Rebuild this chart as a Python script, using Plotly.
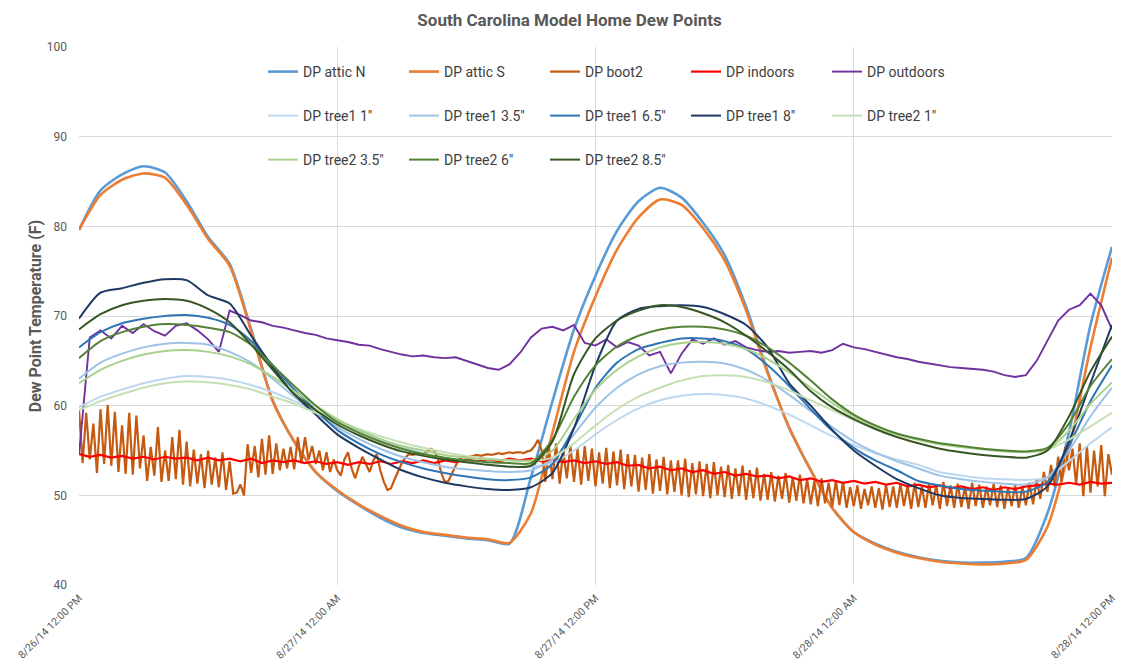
import numpy as np
import pandas as pd
import plotly.graph_objects as go

START = pd.Timestamp("2014-08-26 12:00")
SPAN_HOURS = 48
FONT = "Roboto, 'Open Sans', sans-serif"

# ---- readings (°F) --------------------------------------------------------
# hourly series: 49 values, 8/26 12:00 PM .. 8/28 12:00 PM
attic_n = [79.6, 84.0, 85.8, 86.7, 86.0, 82.8, 78.8, 75.8, 68.5, 60.6,
           56.0, 52.6, 50.5, 48.9, 47.5, 46.4, 45.8, 45.5, 45.2, 45.0,
           44.6, 52.0, 60.5, 68.5, 74.5, 79.5, 82.8, 84.3, 83.2, 80.4,
           76.8, 71.0, 63.8, 57.5, 52.8, 48.6, 45.9, 44.6, 43.7, 43.1,
           42.7, 42.5, 42.5, 42.6, 43.0, 48.0, 57.0, 69.0, 77.7]
attic_s = [79.6, 83.5, 85.2, 85.9, 85.4, 82.4, 78.6, 75.6, 68.3, 60.5,
           56.0, 52.6, 50.6, 49.0, 47.7, 46.6, 45.9, 45.6, 45.3, 45.1,
           44.7, 48.0, 57.0, 66.0, 72.2, 77.4, 81.0, 83.0, 82.4, 79.8,
           76.2, 70.6, 63.6, 57.6, 52.8, 48.6, 45.9, 44.5, 43.6, 43.0,
           42.6, 42.4, 42.3, 42.4, 42.8, 46.5, 55.0, 66.5, 76.5]
tree1_1 = [59.8, 61.0, 61.8, 62.5, 63.0, 63.3, 63.2, 62.9, 62.3, 61.5,
           60.5, 59.4, 58.3, 57.2, 56.2, 55.4, 54.7, 54.1, 53.7, 53.4,
           53.2, 53.2, 53.6, 55.0, 56.8, 58.4, 59.7, 60.6, 61.1, 61.3,
           61.2, 60.8, 60.0, 59.0, 57.8, 56.6, 55.6, 54.7, 54.0, 53.4,
           52.6, 52.2, 51.9, 51.8, 51.7, 52.0, 53.8, 55.8, 57.6]
tree1_35 = [63.0, 64.8, 65.8, 66.5, 66.9, 67.0, 66.8, 66.0, 64.8, 63.0,
            61.0, 59.2, 57.6, 56.3, 55.2, 54.3, 53.7, 53.2, 52.9, 52.7,
            52.6, 52.8, 54.0, 56.8, 59.8, 62.0, 63.5, 64.4, 64.8, 64.9,
            64.7, 64.0, 62.8, 61.2, 59.4, 57.6, 56.0, 54.8, 53.8, 53.0,
            52.2, 51.8, 51.5, 51.3, 51.2, 52.0, 55.0, 58.8, 62.0]
tree1_65 = [66.5, 68.2, 69.2, 69.7, 70.0, 70.1, 69.8, 69.0, 67.2, 64.5,
            61.8, 59.5, 57.3, 55.8, 54.6, 53.7, 53.0, 52.5, 52.1, 51.8,
            51.7, 52.0, 53.5, 57.5, 62.0, 64.8, 66.3, 67.0, 67.5, 67.5,
            67.2, 66.3, 64.5, 62.2, 59.6, 57.2, 55.3, 53.9, 52.8, 51.6,
            51.1, 50.7, 50.5, 50.4, 50.4, 51.5, 55.5, 60.5, 64.5]
tree1_8 = [69.7, 72.6, 73.1, 73.7, 74.1, 74.0, 72.3, 71.4, 67.8, 64.3,
           61.3, 59.0, 56.8, 55.3, 54.0, 52.8, 52.0, 51.4, 51.0, 50.7,
           50.6, 50.9, 52.5, 57.5, 64.5, 69.5, 70.8, 71.1, 71.2, 71.0,
           70.2, 69.0, 66.5, 62.5, 60.0, 57.3, 55.0, 53.3, 51.8, 50.8,
           50.0, 49.7, 49.6, 49.5, 49.6, 51.0, 56.0, 62.5, 69.0]
tree2_1 = [59.5, 60.5, 61.3, 62.0, 62.5, 62.7, 62.6, 62.3, 61.8, 61.0,
           60.2, 59.2, 58.3, 57.4, 56.6, 55.9, 55.3, 54.8, 54.4, 54.1,
           53.9, 53.8, 54.2, 55.8, 57.8, 59.6, 61.0, 62.0, 62.8, 63.3,
           63.4, 63.2, 62.6, 61.7, 60.6, 59.5, 58.4, 57.5, 56.8, 56.2,
           55.7, 55.4, 55.2, 55.0, 54.9, 55.1, 56.2, 57.7, 59.2]
tree2_35 = [62.5, 64.0, 65.0, 65.7, 66.1, 66.2, 66.0, 65.5, 64.6, 63.2,
            61.6, 60.0, 58.5, 57.3, 56.3, 55.5, 55.0, 54.5, 54.2, 54.0,
            53.9, 53.9, 55.0, 58.5, 61.8, 64.0, 65.5, 66.5, 67.0, 67.1,
            66.9, 66.3, 65.2, 63.7, 62.0, 60.3, 58.8, 57.7, 56.8, 56.2,
            55.7, 55.4, 55.1, 54.9, 54.8, 55.1, 57.2, 60.2, 62.6]
tree2_6 = [65.3, 67.2, 68.2, 68.8, 69.1, 69.0, 68.7, 68.2, 66.8, 64.5,
           62.2, 60.0, 58.2, 57.0, 56.0, 55.2, 54.6, 54.2, 53.9, 53.7,
           53.6, 53.6, 56.2, 61.0, 64.5, 66.6, 67.8, 68.5, 68.8, 68.8,
           68.5, 67.8, 66.5, 64.8, 62.8, 60.7, 59.0, 57.8, 56.9, 56.3,
           55.8, 55.5, 55.2, 55.0, 54.9, 55.3, 58.0, 62.2, 65.2]
tree2_85 = [68.5, 70.2, 71.2, 71.7, 71.9, 71.7, 70.8, 69.3, 66.8, 64.0,
            61.3, 59.5, 57.9, 56.7, 55.7, 54.9, 54.4, 54.0, 53.7, 53.4,
            53.2, 53.3, 56.0, 63.5, 67.5, 69.5, 70.6, 71.2, 71.0, 70.3,
            69.3, 67.8, 66.0, 64.0, 61.6, 59.8, 58.5, 57.4, 56.5, 55.8,
            55.2, 54.8, 54.5, 54.3, 54.2, 55.0, 58.8, 63.8, 67.7]

# half-hourly series: 97 values
outdoors = [54.5, 67.6, 68.4, 67.5, 68.9, 68.1, 69.1, 68.3, 67.8, 68.9,
            69.2, 68.4, 67.4, 66.0, 70.6, 70.1, 69.5, 69.3, 68.9, 68.7,
            68.4, 68.1, 67.9, 67.5, 67.3, 67.1, 66.8, 66.7, 66.3, 66.0,
            65.7, 65.5, 65.6, 65.4, 65.3, 65.4, 65.0, 64.6, 64.2, 64.0,
            64.6, 65.9, 67.6, 68.6, 68.8, 68.4, 69.0, 67.0, 66.7, 67.4,
            66.5, 67.1, 66.7, 65.6, 66.0, 63.6, 65.8, 67.4, 66.9, 67.5,
            66.8, 67.2, 66.5, 66.2, 66.0, 66.1, 65.9, 66.0, 66.1, 65.9,
            66.2, 66.9, 66.5, 66.3, 66.0, 65.7, 65.4, 65.2, 64.9, 64.7,
            64.5, 64.3, 64.2, 64.1, 64.0, 63.8, 63.4, 63.2, 63.4, 65.0,
            67.3, 69.5, 70.7, 71.2, 72.5, 71.2, 68.5]
indoors = [54.6, 54.3, 54.5, 54.2, 54.4, 54.1, 54.3, 54.0, 54.3, 54.1,
           54.2, 53.9, 54.2, 53.9, 54.1, 53.8, 54.1, 53.6, 53.9, 53.7,
           53.9, 53.6, 53.8, 53.5, 53.7,
           53.4, 53.7, 53.5, 53.8, 53.5, 53.8, 53.6, 53.9, 53.6, 53.9,
           53.7, 54.0, 53.8, 54.0, 53.8, 54.1, 53.9, 54.1, 53.8, 54.0,
           53.7, 53.9, 53.6, 53.8,
           53.5, 53.7, 53.3, 53.4, 53.0, 53.2, 52.8, 53.0, 52.6, 52.8,
           52.4, 52.6, 52.2, 52.4, 52.1, 52.2, 51.9, 52.1, 51.7, 51.9,
           51.5, 51.7, 51.4, 51.6,
           51.3, 51.5, 51.2, 51.4, 51.0, 51.2, 50.9, 51.1, 50.8, 51.0,
           50.7, 50.9, 50.6, 50.9, 50.7, 51.0, 51.1, 51.3, 51.2, 51.4,
           51.2, 51.5, 51.3, 51.4]

# ten-minute series: 289 values
boot2 = [59.5, 53.6, 59.2, 54.0, 58.0, 52.5, 59.6, 53.5, 60.1, 53.3,
         59.3, 52.6, 57.8, 52.4, 59.2, 52.3, 58.9, 53.0, 56.7, 51.6,
         55.4, 52.2, 57.6, 51.5, 55.0, 51.6, 56.5, 51.8, 57.3, 51.2,
         56.0, 51.0, 55.1, 51.3, 54.6, 50.8, 55.0, 51.2, 54.2, 50.9,
         54.8, 50.6, 53.8, 50.2,
         50.3, 51.2, 50.0,
         55.7, 52.5, 55.5, 52.0, 56.3, 52.3, 56.7, 52.4, 55.8, 52.8,
         55.2, 53.0, 55.4, 52.9, 56.5, 53.6, 56.5, 54.0, 55.5, 53.5,
         55.0, 52.8, 54.8, 52.6,
         54.0, 52.8, 52.2, 54.0, 54.8, 53.0, 51.9, 53.2, 54.3, 53.5,
         52.6, 53.8, 54.6, 52.8, 51.5, 50.6, 50.8, 51.8, 52.8, 53.6,
         54.2, 54.6, 54.5, 54.6, 54.7, 54.6, 54.9, 55.2, 55.0, 54.2,
         52.5, 51.5, 51.6, 52.5, 53.3, 54.0, 54.3, 54.2,
         54.3, 54.4, 54.5, 54.4, 54.5, 54.6, 54.5, 54.6, 54.7, 54.6,
         54.7, 54.8, 54.7, 54.8, 54.8, 54.7, 54.9, 55.0,
         55.5, 56.2, 55.0, 51.5,
         55.4, 51.8, 55.8, 51.3, 55.0, 51.9, 55.6, 51.5, 55.2, 51.2, 55.5, 51.6,
         55.2, 51.0, 54.8, 51.3, 55.3, 50.8, 54.9, 51.1, 55.1, 50.7, 54.6, 51.0,
         54.5, 50.4, 54.2, 50.6, 54.6, 50.2, 54.0, 50.5, 54.3, 50.1, 53.9, 50.4,
         53.9, 50.0, 54.1, 49.8, 53.6, 50.1, 53.8, 49.9, 53.5, 49.7, 53.7, 50.0,
         53.2, 49.8, 53.4, 49.6, 53.0, 49.9, 53.3, 49.5, 52.8, 49.7, 53.1, 49.4,
         52.4, 49.5, 52.6, 49.3, 52.2, 49.6, 52.5, 49.2, 52.0, 49.4, 52.3, 49.1,
         51.8, 49.0, 51.6, 48.8, 51.9, 49.1, 51.4, 48.7, 51.7, 48.9, 51.5, 48.6,
         50.9, 48.8, 51.1, 48.5, 50.7, 48.9, 51.0, 48.6, 50.8, 48.4, 51.2, 48.7,
         51.0, 48.6, 51.3, 48.8, 51.1, 48.5, 51.4, 48.7, 51.0, 48.6, 51.3, 48.9,
         51.2, 48.5, 51.5, 48.8, 51.1, 48.6, 51.3, 48.7, 51.0, 48.5, 51.4, 48.8,
         51.2, 48.6, 51.0, 48.9, 51.3, 48.7, 51.1, 48.5, 50.9, 48.8, 51.2, 48.6,
         51.0, 48.9, 51.4, 49.0,
         51.8, 49.6, 52.6, 50.4, 53.4, 51.0, 54.3, 51.5, 55.4, 52.8, 55.2,
         51.2, 55.8, 49.9, 55.5, 50.3, 55.0, 51.0, 55.6, 49.9, 54.6, 52.3]

tick_labels = ["8/26/14 12:00 PM", "8/27/14 12:00 AM", "8/27/14 12:00 PM",
               "8/28/14 12:00 AM", "8/28/14 12:00 PM"]
tick_hours = [0, 12, 24, 36, 48]

# name, values, colour, width, legend row
SERIES = [
    ("DP attic N", attic_n, "#5B9BD5", 2.6, "legend"),
    ("DP attic S", attic_s, "#ED7D31", 2.6, "legend"),
    ("DP boot2", boot2, "#C55A11", 2.2, "legend"),
    ("DP indoors", indoors, "#FF0000", 2.2, "legend"),
    ("DP outdoors", outdoors, "#7030A0", 1.9, "legend"),
    ('DP tree1 1"', tree1_1, "#BDD7EE", 2.0, "legend2"),
    ('DP tree1 3.5"', tree1_35, "#9DC3E6", 2.0, "legend2"),
    ('DP tree1 6.5"', tree1_65, "#2E75B6", 2.0, "legend2"),
    ('DP tree1 8"', tree1_8, "#1F3864", 2.0, "legend2"),
    ('DP tree2 1"', tree2_1, "#C5E0B4", 2.0, "legend2"),
    ('DP tree2 3.5"', tree2_35, "#A9D18E", 2.0, "legend3"),
    ('DP tree2 6"', tree2_6, "#548235", 2.0, "legend3"),
    ('DP tree2 8.5"', tree2_85, "#375623", 2.0, "legend3"),
]

SMOOTH = {"DP attic N", "DP attic S"} | {s[0] for s in SERIES if "tree" in s[0]}


def times_for(values):
    hours = np.linspace(0, SPAN_HOURS, len(values))
    return START + pd.to_timedelta(hours, unit="h")


fig = go.Figure()
for name, vals, color, width, legend in SERIES:
    line = dict(color=color, width=width)
    if name in SMOOTH:
        line.update(shape="spline", smoothing=0.7)
    fig.add_trace(go.Scatter(x=times_for(vals), y=vals, mode="lines",
                             name=name, line=line, legend=legend))

# plot area in pixels (figure 1139 x 668)
L, R, T, B = 79, 27, 47, 83
W, H = 1139, 668
plot_w, plot_h = W - L - R, H - T - B


def paper_x(px):
    return (px - L) / plot_w


def paper_y(py):
    return 1 - (py - T) / plot_h


legend_style = dict(
    orientation="h", xanchor="left", yanchor="middle", x=paper_x(263),
    bgcolor="rgba(0,0,0,0)", borderwidth=0,
    font=dict(family=FONT, size=14, color="#404040"),
    entrywidth=96, entrywidthmode="pixels",
)

grid = "#D9D9D9"
fig.update_layout(
    width=W, height=H,
    margin=dict(l=L, r=R, t=T, b=B, autoexpand=False),
    paper_bgcolor="white", plot_bgcolor="white",
    font=dict(family=FONT, color="#595959"),
    title=dict(text="<b>South Carolina Model Home Dew Points</b>",
               x=0.5, xanchor="center", y=1 - 20 / H, yanchor="middle",
               font=dict(size=17, color="#595959")),
    legend=dict(y=paper_y(72), **legend_style),
    legend2=dict(y=paper_y(116), **legend_style),
    legend3=dict(y=paper_y(160), **legend_style),
    xaxis=dict(
        type="date", automargin=False,
        range=[START, START + pd.Timedelta(hours=SPAN_HOURS)],
        tickvals=[START + pd.Timedelta(hours=h) for h in tick_hours],
        ticktext=tick_labels, tickangle=-45,
        tickfont=dict(size=10.5, color="#595959"),
        showgrid=True, gridcolor=grid, gridwidth=1,
        zeroline=False, showline=False, ticks="", ticklabelstandoff=4,
    ),
    yaxis=dict(
        range=[40, 100], tickvals=[40, 50, 60, 70, 80, 90, 100],
        automargin=False,
        tickfont=dict(size=12, color="#595959"),
        showgrid=True, gridcolor=grid, gridwidth=1,
        zeroline=False, showline=False, ticks="", ticklabelstandoff=11,
        title=dict(text="<b>Dew Point Temperature (F)</b>", standoff=1,
                   font=dict(size=16, color="#595959")),
    ),
)

fig.write_html("out.html")
